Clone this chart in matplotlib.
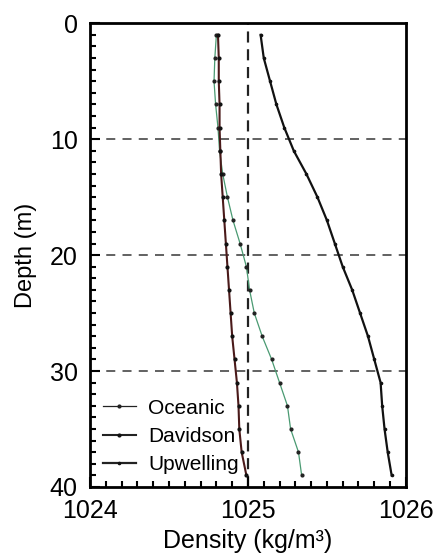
import matplotlib
matplotlib.use("Agg")
import matplotlib.pyplot as plt
from matplotlib.ticker import MultipleLocator

plt.rcParams["font.family"] = ["Liberation Sans", "DejaVu Sans"]

# depth (m) of each sample
depth = [1, 3, 5, 7, 9, 11, 13, 15, 17, 19, 21, 23, 25, 27, 29, 31, 33, 35, 37, 39]

# density (kg/m^3) profiles
oceanic = [1024.80, 1024.79, 1024.785, 1024.795, 1024.81, 1024.82, 1024.84, 1024.87,
           1024.905, 1024.95, 1024.99, 1025.01, 1025.04, 1025.09, 1025.15, 1025.20,
           1025.25, 1025.27, 1025.32, 1025.34]
davidson = [1024.81, 1024.815, 1024.815, 1024.82, 1024.82, 1024.825, 1024.83, 1024.84,
            1024.85, 1024.86, 1024.87, 1024.88, 1024.89, 1024.90, 1024.915, 1024.93,
            1024.94, 1024.945, 1024.96, 1024.99]
upwelling = [1025.08, 1025.10, 1025.14, 1025.18, 1025.23, 1025.29, 1025.37, 1025.44,
             1025.50, 1025.55, 1025.60, 1025.66, 1025.71, 1025.76, 1025.80, 1025.84,
             1025.85, 1025.865, 1025.885, 1025.91]

ref_density = 1025.0
ref_depths = [10, 20, 30]

fig = plt.figure(figsize=(4.46, 5.54), dpi=100)
ax = fig.add_axes([0.202, 0.121, 0.708, 0.837])

for d in ref_depths:
    ax.axhline(d, color="#555555", linestyle=(0, (5, 4)), linewidth=1.3, zorder=1)
ax.axvline(ref_density, color="#222222", linestyle=(0, (5, 3)), linewidth=1.6, zorder=1)

ax.plot(oceanic, depth, color="#4a9a72", linewidth=0.9, marker="o", markersize=2.0,
        markerfacecolor="#222222", markeredgecolor="#222222", label="Oceanic", zorder=3)
ax.plot(davidson, depth, color="#4a1a1a", linewidth=1.5, marker="o", markersize=2.0,
        markerfacecolor="#111111", markeredgecolor="#111111", label="Davidson", zorder=3)
ax.plot(upwelling, depth, color="#111111", linewidth=1.6, marker="o", markersize=1.6,
        markerfacecolor="#111111", markeredgecolor="#111111", label="Upwelling", zorder=3)

ax.set_xlim(1024, 1026)
ax.set_ylim(40, 0)
ax.xaxis.set_major_locator(MultipleLocator(1))
ax.xaxis.set_minor_locator(MultipleLocator(0.1))
ax.yaxis.set_major_locator(MultipleLocator(10))
ax.yaxis.set_minor_locator(MultipleLocator(1))
ax.tick_params(which="both", direction="in", top=False, right=False, width=1.5)
ax.tick_params(which="major", length=7, labelsize=18, pad=9)
ax.tick_params(which="minor", length=4)
for s in ax.spines.values():
    s.set_linewidth(2)

ax.set_xlabel("Density (kg/m³)", fontsize=18, labelpad=4)
ax.set_ylabel("Depth (m)", fontsize=17, labelpad=9)

leg = ax.legend(loc="lower left", frameon=False, fontsize=15, handlelength=1.6,
                labelspacing=0.45, borderaxespad=0.2, handletextpad=0.6)
for h in leg.legend_handles:
    h.set_color("#222222")

fig.savefig("out.png", facecolor="white")
